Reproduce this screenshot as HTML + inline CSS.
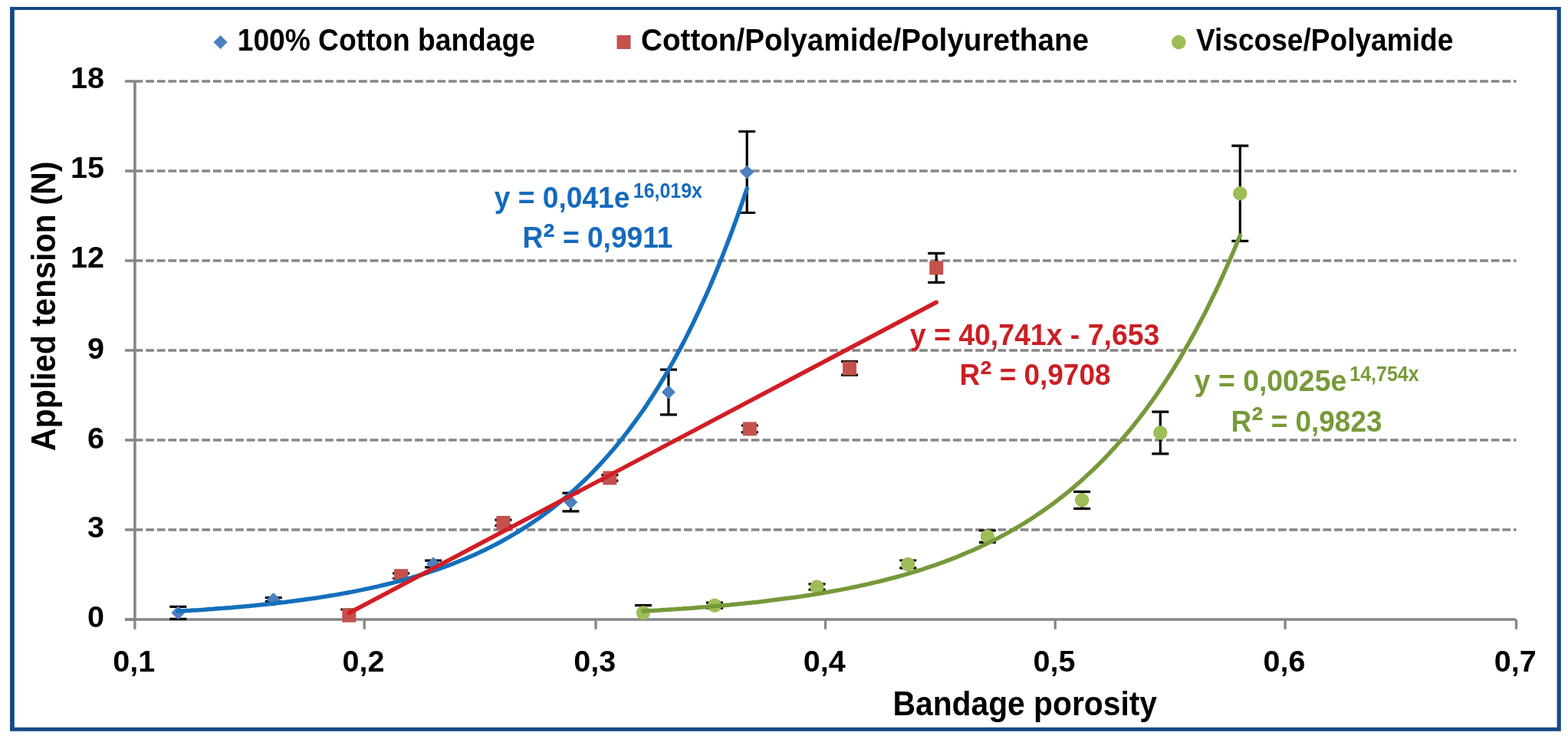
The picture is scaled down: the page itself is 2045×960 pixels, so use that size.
<!DOCTYPE html>
<html><head><meta charset="utf-8"><title>Applied tension vs bandage porosity</title>
<style>
html,body{margin:0;padding:0;background:#fff;}
body{width:2045px;height:960px;overflow:hidden;}
svg{display:block;}
text{font-family:"Liberation Sans",Arial,sans-serif;font-weight:bold;}
</style></head><body>
<svg width="2045" height="960" viewBox="0 0 2045 960">
<rect x="0" y="0" width="2045" height="960" fill="#fff"/>
<path d="M13 9H2035.8V953.8H13Z M18.8 13V948.8H2030.6V13Z" fill="#144a84" fill-rule="evenodd"/>
<path d="M175.5 691.0H1977.5M175.5 574.0H1977.5M175.5 457.0H1977.5M175.5 340.0H1977.5M175.5 223.0H1977.5M175.5 106.0H1977.5" stroke="#868686" stroke-width="3.4" stroke-dasharray="10.8 3.822" fill="none"/>
<path d="M163 808.0H175.5M163 691.0H175.5M163 574.0H175.5M163 457.0H175.5M163 340.0H175.5M163 223.0H175.5M163 106.0H175.5M175.9 808.0V820.8M475.2 808.0V820.8M777.0 808.0V820.8M1076.5 808.0V820.8M1376.2 808.0V820.8M1676.1 808.0V820.8M1977.5 808.0V820.8" stroke="#868686" stroke-width="3.3" fill="none"/>
<path d="M175.9 106V808.0M163 808.0H1977" stroke="#868686" stroke-width="3.6" fill="none"/>
<text x="136" y="818.2" font-size="39.5" text-anchor="end">0</text>
<text x="136" y="701.3" font-size="39.5" text-anchor="end">3</text>
<text x="136" y="585.0" font-size="39.5" text-anchor="end">6</text>
<text x="136" y="467.6" font-size="39.5" text-anchor="end">9</text>
<text x="136" y="349.1" font-size="39.5" text-anchor="end">12</text>
<text x="136" y="232.3" font-size="39.5" text-anchor="end">15</text>
<text x="136" y="115.3" font-size="39.5" text-anchor="end">18</text>
<text x="174.7" y="876" font-size="39.5" text-anchor="middle">0,1</text>
<text x="474.0" y="876" font-size="39.5" text-anchor="middle">0,2</text>
<text x="775.8" y="876" font-size="39.5" text-anchor="middle">0,3</text>
<text x="1075.3" y="876" font-size="39.5" text-anchor="middle">0,4</text>
<text x="1375.0" y="876" font-size="39.5" text-anchor="middle">0,5</text>
<text x="1674.9" y="876" font-size="39.5" text-anchor="middle">0,6</text>
<text x="1976.3" y="876" font-size="39.5" text-anchor="middle">0,7</text>
<clipPath id="pa"><rect x="175.5" y="100" width="1802.0" height="710.0"/></clipPath>
<path d="M221.3 791.3H243.3M232.3 791.3V807.3M221.3 807.3H243.3M345.7 779.6H367.7M356.7 779.6V784.6M345.7 784.6H367.7M554.1 731.1H576.1M565.1 731.1V739.9M554.1 739.9H576.1M733.4 643.1H755.4M744.4 643.1V666.9M733.4 666.9H755.4M860.9 482.2H882.9M871.9 482.2V540.8M860.9 540.8H882.9M963.2 171.5H985.2M974.2 171.5V277.5M963.2 277.5H985.2M444.3 795.0H466.3M455.3 795.0V808.0M512.1 747.9H534.1M523.1 747.9V754.5M512.1 754.5H534.1M645.4 678.1H667.4M656.4 678.1V685.6M645.4 685.6H667.4M784.3 619.6H806.3M795.3 619.6V627.1M784.3 627.1H806.3M966.8 555.0H988.8M977.8 555.0V563.8M966.8 563.8H988.8M1097.0 471.7H1119.0M1108.0 471.7V489.1M1097.0 489.1H1119.0M1210.2 330.4H1232.2M1221.2 330.4V368.4M1210.2 368.4H1232.2M827.9 789.7H849.9M838.9 789.7V808.0M921.0 786.2H943.0M932.0 786.2V793.2M921.0 793.2H943.0M1054.5 761.8H1076.5M1065.5 761.8V769.2M1054.5 769.2H1076.5M1173.2 731.0H1195.2M1184.2 731.0V740.8M1173.2 740.8H1195.2M1276.9 692.0H1298.9M1287.9 692.0V707.4M1276.9 707.4H1298.9M1400.1 641.3H1422.1M1411.1 641.3V663.3M1400.1 663.3H1422.1M1502.3 537.1H1524.3M1513.3 537.1V591.9M1502.3 591.9H1524.3M1606.3 190.1H1628.3M1617.3 190.1V314.3M1606.3 314.3H1628.3" stroke="#000" stroke-width="3.2" fill="none" clip-path="url(#pa)"/>
<path d="M232.3 790.3L241.3 799.3L232.3 808.3L223.3 799.3Z" fill="#4a7fc0"/>
<path d="M356.7 773.1L365.7 782.1L356.7 791.1L347.7 782.1Z" fill="#4a7fc0"/>
<path d="M565.1 726.5L574.1 735.5L565.1 744.5L556.1 735.5Z" fill="#4a7fc0"/>
<path d="M744.4 646.0L753.4 655.0L744.4 664.0L735.4 655.0Z" fill="#4a7fc0"/>
<path d="M871.9 502.5L880.9 511.5L871.9 520.5L862.9 511.5Z" fill="#4a7fc0"/>
<path d="M974.2 215.5L983.2 224.5L974.2 233.5L965.2 224.5Z" fill="#4a7fc0"/>
<rect x="446.3" y="793.7" width="18" height="18" fill="#c4514c"/>
<rect x="514.1" y="742.2" width="18" height="18" fill="#c4514c"/>
<rect x="647.4" y="672.9" width="18" height="18" fill="#c4514c"/>
<rect x="786.3" y="614.4" width="18" height="18" fill="#c4514c"/>
<rect x="968.8" y="550.4" width="18" height="18" fill="#c4514c"/>
<rect x="1099.0" y="471.4" width="18" height="18" fill="#c4514c"/>
<rect x="1212.2" y="340.4" width="18" height="18" fill="#c4514c"/>
<circle cx="838.9" cy="799.2" r="9.2" fill="#9dbd57"/>
<circle cx="932.0" cy="789.7" r="9.2" fill="#9dbd57"/>
<circle cx="1065.5" cy="765.5" r="9.2" fill="#9dbd57"/>
<circle cx="1184.2" cy="735.9" r="9.2" fill="#9dbd57"/>
<circle cx="1287.9" cy="699.7" r="9.2" fill="#9dbd57"/>
<circle cx="1411.1" cy="652.3" r="9.2" fill="#9dbd57"/>
<circle cx="1513.3" cy="564.5" r="9.2" fill="#9dbd57"/>
<circle cx="1617.3" cy="252.2" r="9.2" fill="#9dbd57"/>
<path d="M232.3 797.3L236.0 797.0L239.7 796.8L243.4 796.6L247.1 796.4L250.8 796.1L254.6 795.9L258.3 795.7L262.0 795.4L265.7 795.2L269.4 794.9L273.1 794.6L276.8 794.4L280.5 794.1L284.2 793.8L287.9 793.5L291.7 793.3L295.4 793.0L299.1 792.7L302.8 792.4L306.5 792.0L310.2 791.7L313.9 791.4L317.6 791.1L321.3 790.7L325.0 790.4L328.7 790.0L332.5 789.7L336.2 789.3L339.9 788.9L343.6 788.5L347.3 788.2L351.0 787.8L354.7 787.4L358.4 786.9L362.1 786.5L365.8 786.1L369.6 785.7L373.3 785.2L377.0 784.8L380.7 784.3L384.4 783.8L388.1 783.3L391.8 782.8L395.5 782.3L399.2 781.8L402.9 781.3L406.6 780.8L410.4 780.2L414.1 779.7L417.8 779.1L421.5 778.5L425.2 777.9L428.9 777.3L432.6 776.7L436.3 776.1L440.0 775.5L443.7 774.8L447.5 774.1L451.2 773.5L454.9 772.8L458.6 772.1L462.3 771.4L466.0 770.6L469.7 769.9L473.4 769.1L477.1 768.3L480.8 767.6L484.5 766.7L488.3 765.9L492.0 765.1L495.7 764.2L499.4 763.3L503.1 762.5L506.8 761.5L510.5 760.6L514.2 759.7L517.9 758.7L521.6 757.7L525.4 756.7L529.1 755.7L532.8 754.6L536.5 753.6L540.2 752.5L543.9 751.4L547.6 750.2L551.3 749.1L555.0 747.9L558.7 746.7L562.4 745.5L566.2 744.2L569.9 743.0L573.6 741.7L577.3 740.3L581.0 739.0L584.7 737.6L588.4 736.2L592.1 734.8L595.8 733.3L599.5 731.8L603.2 730.3L607.0 728.7L610.7 727.1L614.4 725.5L618.1 723.9L621.8 722.2L625.5 720.5L629.2 718.7L632.9 717.0L636.6 715.1L640.3 713.3L644.1 711.4L647.8 709.5L651.5 707.5L655.2 705.5L658.9 703.4L662.6 701.3L666.3 699.2L670.0 697.0L673.7 694.8L677.4 692.6L681.1 690.2L684.9 687.9L688.6 685.5L692.3 683.0L696.0 680.5L699.7 678.0L703.4 675.4L707.1 672.8L710.8 670.1L714.5 667.3L718.2 664.5L722.0 661.6L725.7 658.7L729.4 655.7L733.1 652.7L736.8 649.6L740.5 646.4L744.2 643.2L747.9 639.9L751.6 636.5L755.3 633.1L759.0 629.6L762.8 626.0L766.5 622.4L770.2 618.7L773.9 614.9L777.6 611.0L781.3 607.1L785.0 603.1L788.7 599.0L792.4 594.8L796.1 590.5L799.9 586.2L803.6 581.8L807.3 577.2L811.0 572.6L814.7 567.9L818.4 563.1L822.1 558.2L825.8 553.2L829.5 548.2L833.2 543.0L836.9 537.7L840.7 532.3L844.4 526.8L848.1 521.1L851.8 515.4L855.5 509.5L859.2 503.6L862.9 497.5L866.6 491.3L870.3 485.0L874.0 478.5L877.8 471.9L881.5 465.2L885.2 458.4L888.9 451.4L892.6 444.2L896.3 437.0L900.0 429.6L903.7 422.0L907.4 414.3L911.1 406.4L914.8 398.4L918.6 390.2L922.3 381.9L926.0 373.3L929.7 364.7L933.4 355.8L937.1 346.8L940.8 337.5L944.5 328.1L948.2 318.5L951.9 308.8L955.7 298.8L959.4 288.6L963.1 278.2L966.8 267.6L970.5 256.8L974.2 245.8" stroke="#146fbb" stroke-width="5.5" fill="none" stroke-linecap="round"/>
<path d="M455.3 799.5L1221.2 394.3" stroke="#d21d24" stroke-width="5.5" fill="none" stroke-linecap="round"/>
<path d="M838.9 797.1L842.8 796.9L846.7 796.6L850.6 796.4L854.5 796.2L858.4 796.0L862.3 795.7L866.1 795.5L870.0 795.3L873.9 795.0L877.8 794.8L881.7 794.5L885.6 794.2L889.5 794.0L893.4 793.7L897.3 793.4L901.2 793.2L905.1 792.9L909.0 792.6L912.8 792.3L916.7 792.0L920.6 791.7L924.5 791.3L928.4 791.0L932.3 790.7L936.2 790.4L940.1 790.0L944.0 789.7L947.9 789.3L951.8 789.0L955.7 788.6L959.6 788.2L963.4 787.8L967.3 787.4L971.2 787.1L975.1 786.6L979.0 786.2L982.9 785.8L986.8 785.4L990.7 784.9L994.6 784.5L998.5 784.1L1002.4 783.6L1006.3 783.1L1010.1 782.6L1014.0 782.1L1017.9 781.6L1021.8 781.1L1025.7 780.6L1029.6 780.1L1033.5 779.6L1037.4 779.0L1041.3 778.4L1045.2 777.9L1049.1 777.3L1053.0 776.7L1056.9 776.1L1060.7 775.5L1064.6 774.9L1068.5 774.2L1072.4 773.6L1076.3 772.9L1080.2 772.2L1084.1 771.5L1088.0 770.8L1091.9 770.1L1095.8 769.4L1099.7 768.6L1103.6 767.9L1107.4 767.1L1111.3 766.3L1115.2 765.5L1119.1 764.7L1123.0 763.8L1126.9 763.0L1130.8 762.1L1134.7 761.2L1138.6 760.3L1142.5 759.4L1146.4 758.5L1150.3 757.5L1154.2 756.5L1158.0 755.5L1161.9 754.5L1165.8 753.5L1169.7 752.5L1173.6 751.4L1177.5 750.3L1181.4 749.2L1185.3 748.0L1189.2 746.9L1193.1 745.7L1197.0 744.5L1200.9 743.3L1204.7 742.0L1208.6 740.7L1212.5 739.4L1216.4 738.1L1220.3 736.8L1224.2 735.4L1228.1 734.0L1232.0 732.6L1235.9 731.1L1239.8 729.6L1243.7 728.1L1247.6 726.6L1251.5 725.0L1255.3 723.4L1259.2 721.8L1263.1 720.1L1267.0 718.4L1270.9 716.7L1274.8 714.9L1278.7 713.1L1282.6 711.3L1286.5 709.4L1290.4 707.5L1294.3 705.6L1298.2 703.6L1302.0 701.6L1305.9 699.5L1309.8 697.4L1313.7 695.3L1317.6 693.1L1321.5 690.9L1325.4 688.6L1329.3 686.3L1333.2 684.0L1337.1 681.6L1341.0 679.2L1344.9 676.7L1348.8 674.1L1352.6 671.5L1356.5 668.9L1360.4 666.2L1364.3 663.5L1368.2 660.7L1372.1 657.9L1376.0 655.0L1379.9 652.0L1383.8 649.0L1387.7 645.9L1391.6 642.8L1395.5 639.6L1399.3 636.3L1403.2 633.0L1407.1 629.7L1411.0 626.2L1414.9 622.7L1418.8 619.1L1422.7 615.5L1426.6 611.8L1430.5 608.0L1434.4 604.1L1438.3 600.2L1442.2 596.2L1446.1 592.1L1449.9 587.9L1453.8 583.7L1457.7 579.3L1461.6 574.9L1465.5 570.4L1469.4 565.8L1473.3 561.2L1477.2 556.4L1481.1 551.5L1485.0 546.6L1488.9 541.5L1492.8 536.4L1496.6 531.1L1500.5 525.8L1504.4 520.3L1508.3 514.8L1512.2 509.1L1516.1 503.4L1520.0 497.5L1523.9 491.5L1527.8 485.4L1531.7 479.2L1535.6 472.8L1539.5 466.3L1543.4 459.7L1547.2 453.0L1551.1 446.2L1555.0 439.2L1558.9 432.1L1562.8 424.8L1566.7 417.4L1570.6 409.9L1574.5 402.2L1578.4 394.3L1582.3 386.3L1586.2 378.2L1590.1 369.9L1593.9 361.5L1597.8 352.8L1601.7 344.0L1605.6 335.1L1609.5 326.0L1613.4 316.7L1617.3 307.2" stroke="#76993a" stroke-width="5.5" fill="none" stroke-linecap="round"/>
<path d="M287.5 46L296.5 55L287.5 64L278.5 55Z" fill="#4a7fc0"/>
<rect x="804.5" y="46" width="18" height="18" fill="#c4514c"/>
<circle cx="1537.3" cy="55" r="9.3" fill="#9dbd57"/>
<text x="309.8" y="66" font-size="40" fill="#000" textLength="388" lengthAdjust="spacingAndGlyphs" text-anchor="start">100% Cotton bandage</text>
<text x="836" y="66" font-size="40" fill="#000" textLength="584" lengthAdjust="spacingAndGlyphs" text-anchor="start">Cotton/Polyamide/Polyurethane</text>
<text x="1559.9" y="66" font-size="40" fill="#000" textLength="335.4" lengthAdjust="spacingAndGlyphs" text-anchor="start">Viscose/Polyamide</text>
<text x="1164.5" y="932.5" font-size="44" fill="#000" textLength="344.5" lengthAdjust="spacingAndGlyphs" text-anchor="start">Bandage porosity</text>
<text x="0" y="0" font-size="44" textLength="377.6" lengthAdjust="spacingAndGlyphs" transform="translate(71.5 588.2) rotate(-90)">Applied tension (N)</text>
<text x="644.7" y="270.5" font-size="38" fill="#156abd" textLength="176.7" lengthAdjust="spacingAndGlyphs" text-anchor="start">y = 0,041e</text>
<text x="825.8" y="258" font-size="27.5" fill="#156abd" textLength="90.2" lengthAdjust="spacingAndGlyphs" text-anchor="start">16,019x</text>
<text x="681.5" y="323.3" font-size="38" fill="#156abd" textLength="196" lengthAdjust="spacingAndGlyphs">R<tspan font-size="47" dy="1.5">²</tspan><tspan dy="-1.5"> = 0,9911</tspan></text>
<text x="1186.7" y="449.6" font-size="38" fill="#cb1f24" textLength="325.7" lengthAdjust="spacingAndGlyphs" text-anchor="start">y = 40,741x - 7,653</text>
<text x="1251.5" y="502.4" font-size="38" fill="#cb1f24" textLength="197" lengthAdjust="spacingAndGlyphs">R<tspan font-size="47" dy="1.5">²</tspan><tspan dy="-1.5"> = 0,9708</tspan></text>
<text x="1557.8" y="510" font-size="38" fill="#779a38" textLength="198.4" lengthAdjust="spacingAndGlyphs" text-anchor="start">y = 0,0025e</text>
<text x="1760.3" y="497.1" font-size="27.5" fill="#779a38" textLength="90.3" lengthAdjust="spacingAndGlyphs" text-anchor="start">14,754x</text>
<text x="1605.5" y="562.5" font-size="38" fill="#779a38" textLength="197" lengthAdjust="spacingAndGlyphs">R<tspan font-size="47" dy="1.5">²</tspan><tspan dy="-1.5"> = 0,9823</tspan></text>
</svg>
</body></html>
